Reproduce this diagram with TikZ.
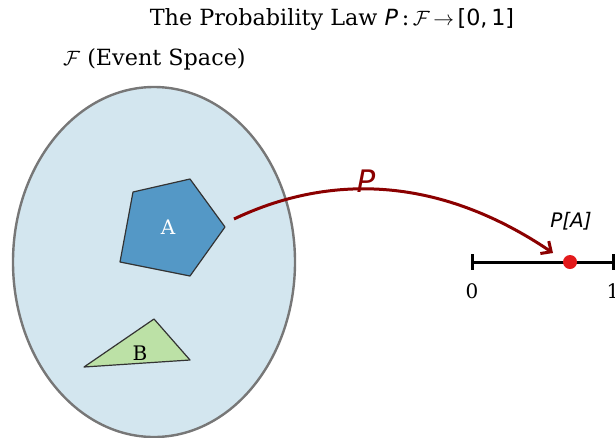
\documentclass[tikz,border=0pt]{standalone}
\usepackage{fontspec}
\setmainfont{DejaVu Serif}
\newfontfamily\dvs{DejaVu Sans}
\usetikzlibrary{arrows.meta}
\definecolor{spacefill}{HTML}{D3E6EF}
\definecolor{spaceedge}{HTML}{777777}
\definecolor{afill}{HTML}{5498C6}
\definecolor{bfill}{HTML}{BCE1A6}
\definecolor{arrowred}{HTML}{8B0000}
\definecolor{dotred}{HTML}{E31A1C}
\tikzset{
  region/.style={draw=black!80, line width=1.2pt, line join=round},
  lbl/.style={inner sep=0pt, font=\fontsize{20}{24}\selectfont},
}
\begin{document}
\begin{tikzpicture}[x=1pt,y=-1pt]
\useasboundingbox (0,0) rectangle (615,437);
\clip (0,0) rectangle (615,437);
% event space
\draw[fill=spacefill, draw=spaceedge, line width=2.4pt] (154,262) ellipse [x radius=141, y radius=175];
% A
\draw[region, fill=afill] (133,192) -- (190,179) -- (225,227) -- (190,276) -- (120,262) -- cycle;
\node[lbl, text=white] (A) at (168,227) {A};
% B
\draw[region, fill=bfill] (84,367) -- (154,319) -- (190,360) -- cycle;
\node[lbl] (B) at (140,353) {B};
% titles
\node[inner sep=0pt, font=\fontsize{22.3}{26}\selectfont] (title) at (332,20) {The Probability Law {\dvs\itshape P}\,:\,$\mathcal{F}\,{\dvs\rightarrow}\,${\dvs[0,\,1]}};
\node[inner sep=0pt, font=\fontsize{22.3}{26}\selectfont, anchor=west] (fs) at (63,59) {$\mathcal{F}$ (Event Space)};
% number line
\coordinate (n0) at (472,262);
\coordinate (n1) at (613,262);
\draw[line width=3pt] (n0) -- (n1);
\draw[line width=3pt] (472,254) -- (472,270);
\draw[line width=3pt] (613,254) -- (613,270);
\node[lbl] (z) at (472,291) {0};
\node[lbl] (o) at (613,291) {1};
\node[circle, fill=dotred, inner sep=0pt, minimum size=14pt] (pa) at (570,262) {};
\node[inner sep=0pt, font=\dvs\itshape\fontsize{20}{24}\selectfont] (palbl) at (571,221) {P[A]};
% arrow
\coordinate (s) at (234,219);
\coordinate (e) at (553,253);
\draw[arrowred, line width=3pt, -{Straight Barb[length=8pt,width=15pt,line width=3pt]}] (s) .. controls (320,178) and (430,170) .. (e);
\node[inner sep=0pt, text=arrowred, font=\dvs\itshape\fontsize{31}{36}\selectfont] (P) at (366,181) {P};
\end{tikzpicture}
\end{document}
